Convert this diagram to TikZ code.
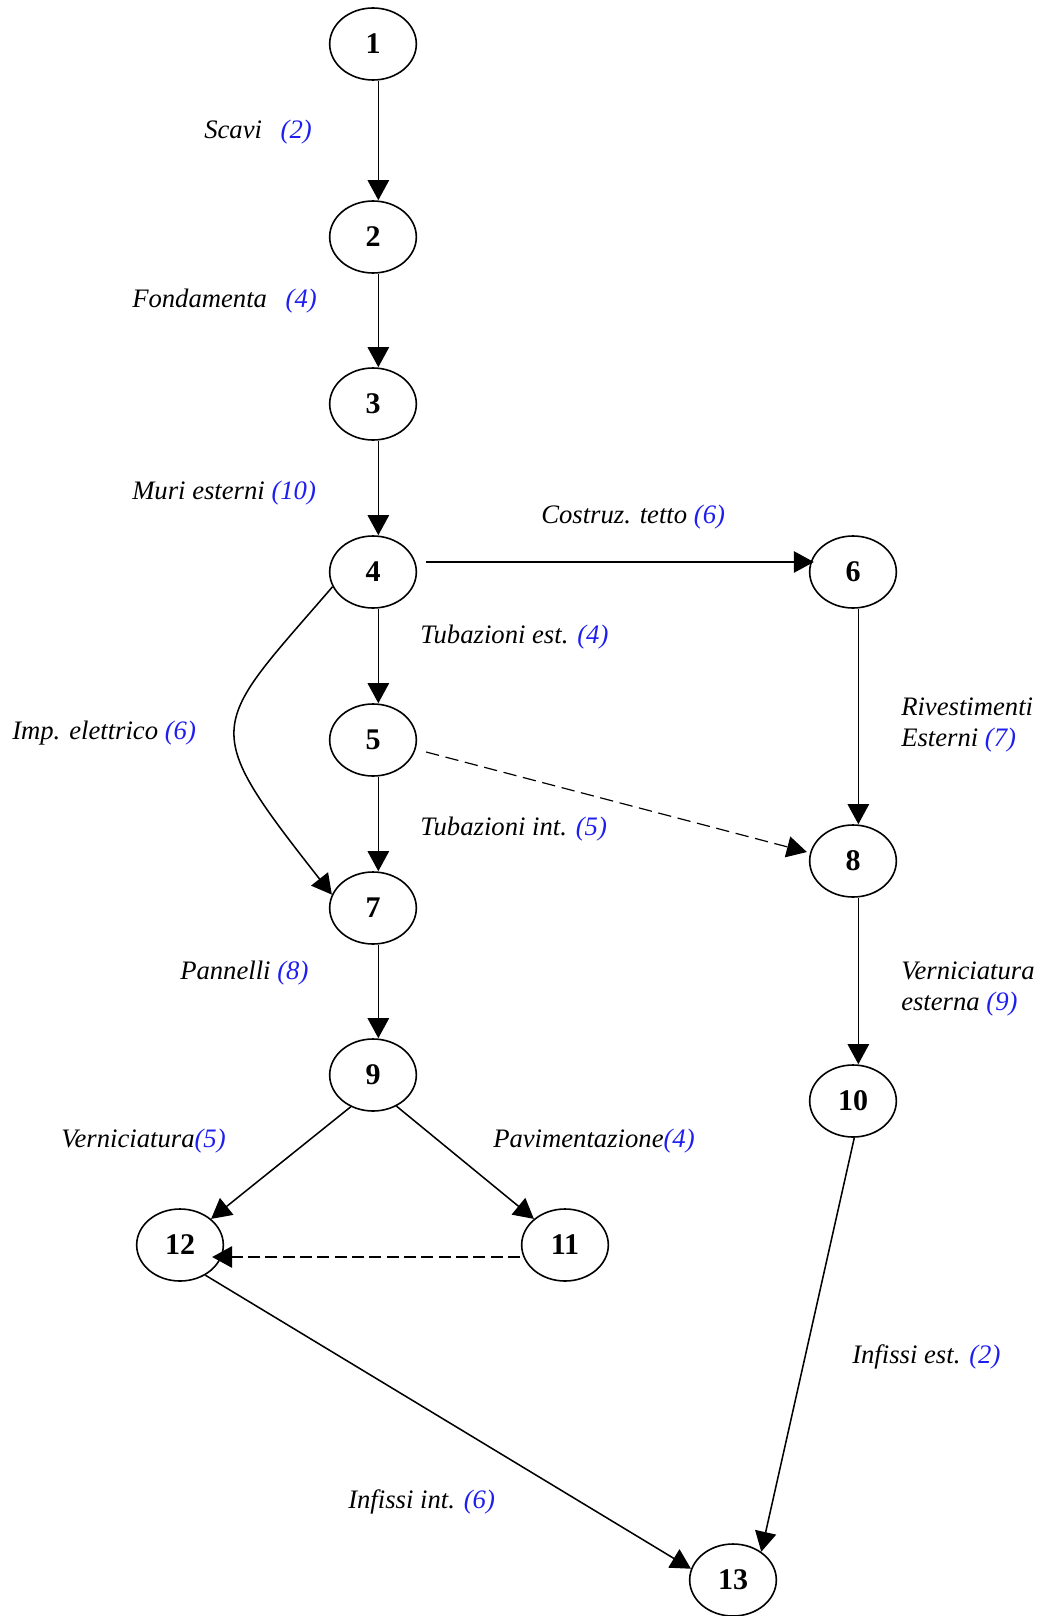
\documentclass[tikz,border=0pt]{standalone}
\usepackage{fontspec}
\setmainfont{Liberation Serif}
\usepackage{xcolor}
\usetikzlibrary{
    arrows.meta,
    shapes.geometric,
    positioning
}
\definecolor{durblu}{RGB}{30,30,240}
\newcommand{\durata}[1]{\textcolor{durblu}{(#1)}}

\begin{document}
\begin{tikzpicture}[x=0.75pt, y=-0.75pt,
    ev/.style={draw, ellipse, line width=1.2pt, minimum width=65pt, minimum height=54pt, inner sep=0pt, font=\fontsize{22.5}{24}\selectfont\bfseries},
    act/.style={inner sep=0pt, font=\fontsize{20}{23.5}\selectfont\itshape},
    arr/.style={line width=1.15pt, -{Triangle[length=15pt,width=16pt]}},
    dasharr/.style={arr, line width=0.9pt, dash pattern=on 10pt off 5pt},
    dasharrb/.style={arr, line width=1.6pt, dash pattern=on 9pt off 4pt}
]
    \useasboundingbox (0,0) rectangle (1044,1616);

    % eventi
    \node[ev] (n1) at (373,44) {1};
    \node[ev] (n2) at (373,237) {2};
    \node[ev] (n3) at (373,404) {3};
    \node[ev] (n4) at (373,572) {4};
    \node[ev] (n5) at (373,740) {5};
    \node[ev] (n6) at (853,572) {6};
    \node[ev] (n7) at (373,908) {7};
    \node[ev] (n8) at (853,861) {8};
    \node[ev] (n9) at (373,1075) {9};
    \node[ev] (n10) at (853,1101) {10};
    \node[ev] (n11) at (565,1245) {11};
    \node[ev] (n12) at (180,1245) {12};
    \node[ev] (n13) at (733,1580) {13};

    % attivita
    \draw[arr] ([xshift=4pt]n1.south) -- ([xshift=4pt]n2.north);
    \draw[arr] ([xshift=4pt]n2.south) -- ([xshift=4pt]n3.north);
    \draw[arr] ([xshift=4pt]n3.south) -- ([xshift=4pt]n4.north);
    \draw[arr] ([xshift=4pt]n4.south) -- ([xshift=4pt]n5.north);
    \draw[arr] ([xshift=4pt]n5.south) -- ([xshift=4pt]n7.north);
    \draw[arr] ([xshift=4pt]n7.south) -- ([xshift=4pt]n9.north);
    \draw[arr] ([xshift=4pt]n6.south) -- ([xshift=4pt]n8.north);
    \draw[arr] ([xshift=4pt]n8.south) -- ([xshift=4pt]n10.north);
    \draw[arr] ([shift={(9,-10)}]n4.east) -- ([shift={(5,-10)}]n6.west);
    \draw[arr] (n4.200) .. controls (210,729) and (197,723) .. (n7.162);
    \draw[dasharr] ([shift={(9,12)}]n5.east) -- ([shift={(-2,-9)}]n8.west);
    \draw[arr] (n9.235) -- (n12.40);
    \draw[arr] (n9.307) -- (n11.140);
    \draw[dasharrb] ([shift={(-1,12)}]n11.west) -- ([shift={(-12,12)}]n12.east);
    \draw[arr] (n12.310) -- (n13.165);
    \draw[arr] (n10.272) -- (n13.45);

    % etichette
    \node[act, anchor=west] (l12) at (204,132) {Scavi\hspace{0.7em}\durata{2}};
    \node[act, anchor=west] (l23) at (132,301) {Fondamenta\hspace{0.7em}\durata{4}};
    \node[act, anchor=west] (l34) at (132,493) {Muri esterni \durata{10}};
    \node[act, anchor=west] (l46) at (541,517) {Costruz. tetto \durata{6}};
    \node[act, anchor=west] (l45) at (420,637) {Tubazioni est. \durata{4}};
    \node[act, anchor=west] (l47) at (12,733) {Imp. elettrico \durata{6}};
    \node[act, anchor=west, align=left] (l68) at (901,725) {Rivestimenti\\Esterni \durata{7}};
    \node[act, anchor=west] (l57) at (420,829) {Tubazioni int. \durata{5}};
    \node[act, anchor=west] (l79) at (180,973) {Pannelli \durata{8}};
    \node[act, anchor=west, align=left] (l810) at (901,989) {Verniciatura\\esterna \durata{9}};
    \node[act, anchor=west] (l912) at (61,1141) {Verniciatura\durata{5}};
    \node[act, anchor=west] (l911) at (493,1141) {Pavimentazione\durata{4}};
    \node[act, anchor=west] (l1013) at (852,1357) {Infissi est. \durata{2}};
    \node[act, anchor=west] (l1213) at (348,1502) {Infissi int. \durata{6}};
\end{tikzpicture}
\end{document}
